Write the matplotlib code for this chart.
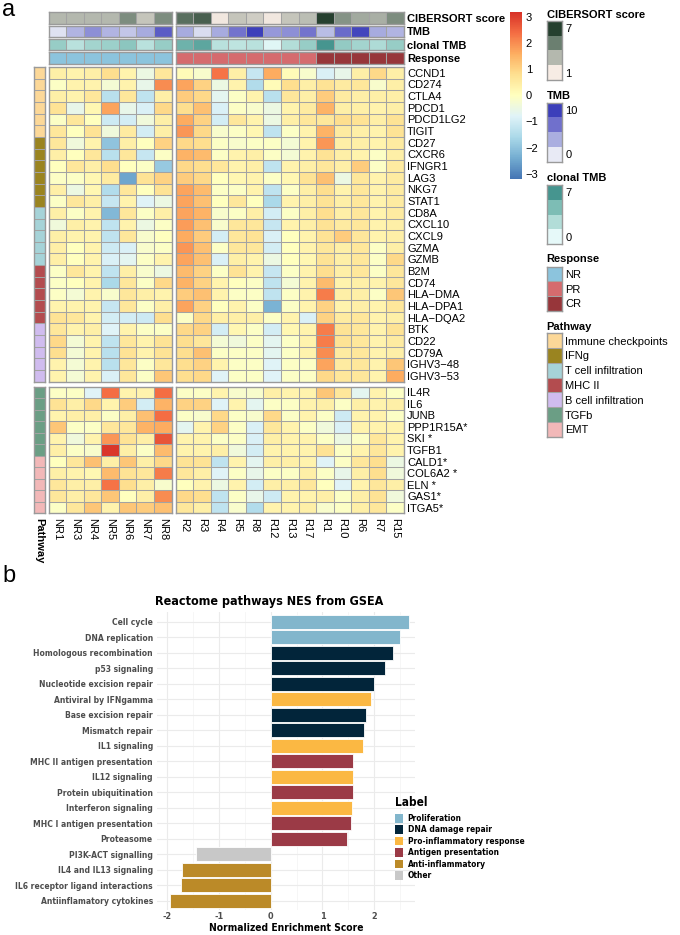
import matplotlib
matplotlib.use("Agg")
import matplotlib.pyplot as plt
import numpy as np
from matplotlib.colors import LinearSegmentedColormap, ListedColormap
from matplotlib.patches import Patch

# ---------------- data: panel a ----------------
samples_nr = ["NR1", "NR3", "NR4", "NR5", "NR6", "NR7", "NR8"]
samples_r = ["R2", "R3", "R4", "R5", "R8", "R12", "R13", "R17", "R1", "R10", "R6", "R7", "R15"]

genes_top = ["CCND1", "CD274", "CTLA4", "PDCD1", "PDCD1LG2", "TIGIT",
             "CD27", "CXCR6", "IFNGR1", "LAG3", "NKG7", "STAT1",
             "CD8A", "CXCL10", "CXCL9", "GZMA", "GZMB",
             "B2M", "CD74", "HLA\u2212DMA", "HLA\u2212DPA1", "HLA\u2212DQA2",
             "BTK", "CD22", "CD79A", "IGHV3\u221248", "IGHV3\u221253"]
genes_bot = ["IL4R", "IL6", "JUNB", "PPP1R15A*", "SKI *", "TGFB1",
             "CALD1*", "COL6A2 *", "ELN *", "GAS1*", "ITGA5*"]

pathway_names = ["Immune checkpoints", "IFNg", "T cell infiltration", "MHC II",
                 "B cell infiltration", "TGFb", "EMT"]
pathway_colors = ["#fcd898", "#9a8420", "#a6d3d8", "#b34c4f", "#d0bcef", "#6b9e85", "#f2b8b8"]
pathway_top = [0]*6 + [1]*6 + [2]*5 + [3]*5 + [4]*5
pathway_bot = [5]*6 + [6]*5

expr_top = [
    [0.4, 0.3, 0.4, 0.8, 0.3, -0.5, 0.6, 0.1, -0.2, 2.3, 0.4, -1.2, 1.6, 0.1, -0.2, -0.9, -0.6, 0.4, 0.9, 0.4],
    [-0.1, 0.3, 0.3, -0.3, 0.3, -0.6, 2.0, 1.7, 1.0, -0.5, 0.3, -1.5, 0.1, 0.8, 0.4, 0.7, 0.5, 0.6, -0.2, 0.4],
    [0.4, 0.3, 0.6, -1.4, 0.6, -1.3, 0.4, 1.1, 0.9, -0.7, -0.1, 0.3, -1.4, 0.6, 0.4, 1.1, 0.5, 0.4, 0.4, 0.4],
    [0.7, -0.6, 0.2, 1.7, -0.6, -0.9, 0.9, 0.8, 1.3, -0.9, -0.1, -0.2, -0.5, 0.3, 0.5, 1.5, 0.4, 0.4, 0.3, 0.4],
    [-0.1, 0.6, 0.0, -1.1, -1.0, -0.4, 0.4, 1.6, 1.0, -1.0, 0.6, 0.3, -0.5, 0.4, 0.6, 0.6, 0.8, 0.7, 0.4, 0.7],
    [0.6, 0.0, 0.7, -0.4, 0.5, -1.0, 0.4, 1.9, 0.9, -0.2, -0.1, 0.2, -1.3, -0.1, 0.3, 1.5, 0.5, 0.4, 0.3, 0.7],
    [0.6, -0.4, 0.3, -2.0, 0.4, 0.0, 1.0, 0.9, 0.8, -0.1, -0.2, -0.1, -0.1, -0.3, 0.3, 1.9, 0.4, 0.4, 0.3, 0.5],
    [0.4, 0.0, 0.6, -1.4, 0.6, -1.2, -0.1, 1.5, 1.4, -0.1, 0.3, 0.4, -0.1, -0.3, 0.3, 0.7, 0.4, 0.3, -0.1, 0.4],
    [0.0, 0.6, 0.4, 0.8, 0.0, -0.1, -1.9, 0.9, 0.8, 0.6, 0.3, 0.4, -1.3, 0.3, 0.4, 0.6, 0.4, 1.1, -0.1, 0.5],
    [-0.1, -0.1, 0.2, 0.5, -2.5, 0.7, 1.0, 1.1, 0.9, 0.0, 0.2, 0.3, -0.1, 0.2, 0.7, 1.3, -0.5, 0.6, 0.3, 0.5],
    [0.4, -0.5, 0.2, -1.5, 0.6, 0.0, 0.7, 1.7, 1.4, -0.1, -0.1, 0.3, -1.3, -0.1, 0.4, 0.8, 0.3, 0.6, 0.3, 0.5],
    [-0.1, 0.6, 0.4, -1.2, 0.3, -0.8, -0.5, 1.7, 1.3, 0.0, 0.6, 0.0, -1.6, 0.3, 0.4, 0.7, 0.4, 0.6, 0.3, 0.5],
    [0.4, -0.1, 0.3, -2.2, 0.6, -0.1, 0.4, 1.7, 1.5, -0.2, -0.1, 0.4, -1.0, -0.1, 0.4, 0.8, 0.4, 0.6, 0.3, 0.5],
    [-0.4, 0.4, 0.3, -1.3, 0.3, -0.5, -0.1, 1.8, 1.3, -0.2, 0.6, 0.6, -1.2, 0.3, 0.4, 0.7, 0.5, 0.6, 0.3, 0.4],
    [0.4, 0.3, 0.3, -1.3, 0.6, -0.2, 0.0, 1.6, 1.1, -1.0, 0.6, 0.7, -0.9, 0.0, 0.3, 0.7, 1.1, 0.6, 0.3, 0.4],
    [0.4, 0.0, 0.3, -1.1, -0.9, -0.2, -0.1, 1.9, 1.3, -0.1, 0.6, 0.6, -1.0, 0.0, 0.3, 0.6, 0.4, 0.6, -0.1, 0.4],
    [0.4, 0.0, 0.3, -0.9, -0.7, -0.1, 0.3, 1.7, 1.3, -0.9, 0.4, 0.3, -0.5, 0.0, 0.2, 0.7, 0.4, 0.6, -0.1, 0.9],
    [-0.1, 0.6, 0.3, -1.3, 0.4, -0.2, -0.5, 1.4, 1.0, -0.1, 0.7, 0.3, -1.2, -0.1, 0.3, 0.8, 0.4, 0.6, -0.1, 0.6],
    [-0.1, 0.0, 0.3, -1.6, 0.6, -0.1, 0.9, 1.5, 1.0, 0.3, 0.0, -0.1, -1.3, -0.3, 0.3, 1.4, 0.3, 0.4, 0.3, 0.6],
    [-0.1, -0.3, 0.3, -0.2, 0.6, 0.4, 0.3, 1.1, 1.3, 0.3, -0.1, -0.1, -1.3, -0.1, 0.3, 2.2, 0.4, 0.4, -0.1, 1.2],
    [0.3, 0.3, 0.3, -1.2, 0.6, -0.1, 0.4, 1.7, 1.0, 0.0, 0.3, -0.1, -2.3, -0.1, 0.3, 1.0, 0.3, 0.4, 0.3, 0.6],
    [0.7, 0.6, 0.3, -1.0, -1.0, -1.1, 0.8, -0.1, 0.9, 0.4, 0.4, 0.4, -0.1, 0.3, -0.9, 1.0, 0.5, 0.6, 0.3, 0.4],
    [0.6, 0.3, 0.4, -0.8, 0.3, -0.1, -0.1, 0.9, 1.0, -1.0, 0.2, -0.1, -1.0, 0.2, 0.3, 2.2, 0.7, 0.6, 0.3, 0.7],
    [0.9, -0.3, 0.3, -1.3, 0.6, 0.3, 0.7, 0.8, 0.6, -0.3, -0.4, -0.1, -0.7, -0.1, 0.3, 2.2, 0.7, 0.6, 0.3, 0.5],
    [0.8, -0.3, 0.3, -1.4, 0.7, 0.3, 0.7, 0.8, 1.3, -0.1, -0.1, -0.1, -0.7, -0.1, 0.3, 2.0, 0.5, 0.6, 0.3, 0.4],
    [0.3, -0.3, 0.3, -1.4, 0.6, -0.1, 0.6, 0.8, 1.0, 0.3, -0.1, -0.1, -0.8, -0.1, -0.1, 1.7, 0.5, 0.6, 0.3, 1.2],
    [0.3, -0.3, 0.3, -0.9, 0.6, -0.1, 1.2, 0.8, 0.9, -0.8, -0.1, -0.1, -0.8, -0.1, -0.1, 0.9, 0.6, 0.6, 0.3, 1.6],
]
expr_bot = [
    [-0.1, -0.1, -0.8, 2.4, 0.3, 0.3, 2.4, -0.1, -0.1, 0.3, -0.2, -0.2, 0.4, 0.3, 0.3, 1.2, 0.6, -0.7, 0.3, -0.1],
    [0.7, 0.4, 0.9, 0.3, 1.1, -1.0, 1.5, 1.0, 1.0, -0.8, 0.3, -0.7, -0.1, -0.1, 0.3, 0.4, -0.1, 0.4, 0.3, 0.4],
    [0.3, 0.4, 0.4, -0.1, 0.4, 1.3, 2.4, -0.1, -0.2, 0.9, -0.1, -0.2, 0.9, -0.1, 0.3, -0.1, -1.1, 0.3, 0.3, -0.1],
    [1.2, -0.1, -0.1, 0.6, 0.6, 1.5, 1.6, -0.7, 0.3, 1.0, -0.1, -0.9, 0.6, 0.3, -0.1, -0.4, -0.9, 0.3, 0.3, 0.3],
    [0.3, -0.4, 0.3, 1.9, 0.7, 0.4, 2.7, 0.3, 0.3, -0.1, -0.1, -0.9, 0.4, 0.3, 0.3, -0.1, -0.5, -0.1, 0.6, 0.3],
    [0.4, -0.1, -0.2, 3.1, 0.4, -0.1, 1.4, 0.3, 0.3, 0.4, -0.4, -1.0, 0.3, 0.3, 0.3, 0.7, -0.1, 0.3, 0.6, 0.3],
    [0.0, 0.6, 1.3, 0.4, 1.2, 0.4, 0.9, 0.7, 0.7, -1.3, 0.3, -0.7, 0.4, 0.4, 0.3, -0.8, -0.1, 0.6, 0.8, -0.5],
    [0.4, 0.3, 0.2, 1.4, 0.7, 0.6, 2.2, 0.6, 0.4, -0.8, -0.1, -0.6, -0.1, -0.1, 0.4, -0.1, -0.6, 0.4, 0.8, -0.4],
    [0.6, 0.4, 0.4, 2.3, 0.8, 0.4, -0.2, 0.0, 0.3, -0.5, 0.3, -1.0, 0.4, 0.4, 0.6, 0.0, -0.8, 0.3, 0.6, 0.4],
    [0.6, 0.4, 0.6, 1.2, 0.0, 0.4, 2.0, 0.9, 0.8, -1.3, -0.1, -0.6, -1.1, 0.3, 0.3, 0.4, -0.1, 0.4, 0.7, -0.4],
    [-0.1, 0.6, 1.2, 0.3, 1.2, 1.1, 1.3, 0.6, 0.4, -1.3, -0.2, -1.5, 0.3, 0.3, 0.4, -0.2, -0.1, 0.4, 0.6, -0.1],
]

cibersort = [3.0, 3.0, 3.0, 3.0, 4.5, 2.5, 4.5, 5.5, 6.0, 1.2, 2.5, 2.2, 1.2, 2.5, 2.8, 7.0, 4.3, 3.5, 3.3, 4.5]
tmb = [0.5, 3.0, 5.0, 3.0, 2.0, 3.5, 8.0, 3.5, 0.8, 3.5, 6.5, 10.0, 4.5, 5.0, 6.5, 2.5, 7.0, 9.5, 3.5, 3.0]
clonal_tmb = [3.5, 2.0, 3.0, 3.3, 4.0, 2.0, 3.5, 5.3, 6.0, 2.0, 1.8, 2.0, 0.3, 2.3, 3.5, 7.0, 3.7, 3.0, 2.5, 3.5]
response = [0]*7 + [1]*8 + [2]*5
response_names = ["NR", "PR", "CR"]
response_colors = ["#8cc4dd", "#d56b6e", "#97363a"]

# ---------------- data: panel b ----------------
pathways_b = ["Cell cycle", "DNA replication", "Homologous recombination", "p53 signaling",
              "Nucleotide excision repair", "Antiviral by IFNgamma", "Base excision repair",
              "Mismatch repair", "IL1 signaling", "MHC II antigen presentation", "IL12 signaling",
              "Protein ubiquitination", "Interferon signaling", "MHC I antigen presentation",
              "Proteasome", "PI3K-ACT signalling", "IL4 and IL13 signaling",
              "IL6 receptor ligand interactions", "Antiinflamatory cytokines"]
nes = [2.68, 2.50, 2.37, 2.21, 1.99, 1.93, 1.84, 1.80, 1.79, 1.60, 1.60, 1.59, 1.57, 1.55,
       1.48, -1.44, -1.71, -1.74, -1.95]
labels_b = ["Proliferation", "Proliferation", "DNA damage repair", "DNA damage repair",
            "DNA damage repair", "Pro-inflammatory response", "DNA damage repair",
            "DNA damage repair", "Pro-inflammatory response", "Antigen presentation",
            "Pro-inflammatory response", "Antigen presentation", "Pro-inflammatory response",
            "Antigen presentation", "Antigen presentation", "Other", "Anti-inflammatory",
            "Anti-inflammatory", "Anti-inflammatory"]
label_order = ["Proliferation", "DNA damage repair", "Pro-inflammatory response",
               "Antigen presentation", "Anti-inflammatory", "Other"]
label_colors = ["#82b6cc", "#02253a", "#fbb843", "#9b3a46", "#bb8a28", "#c8c8c8"]

# ---------------- figure ----------------
W, H = 680, 935
fig = plt.figure(figsize=(W/100, H/100), dpi=100)
FA = "Liberation Sans"
plt.rcParams["font.family"] = [FA, "DejaVu Sans"]

CELL_EDGE = "#a3a3a3"


def px_ax(x0, y0, x1, y1):
    return fig.add_axes([x0/W, 1 - y1/H, (x1 - x0)/W, (y1 - y0)/H])


def grid(ax, data, cmap, vmin, vmax, lines=True):
    data = np.asarray(data, dtype=float)
    nr, nc = data.shape
    m = ax.pcolormesh(data, cmap=cmap, vmin=vmin, vmax=vmax)
    if lines:
        for k in range(1, nc):
            ax.axvline(k, color=CELL_EDGE, linewidth=0.75)
        for k in range(1, nr):
            ax.axhline(k, color=CELL_EDGE, linewidth=0.75)
    ax.set_xlim(0, nc)
    ax.set_ylim(nr, 0)
    ax.set_xticks([])
    ax.set_yticks([])
    for s in ax.spines.values():
        s.set_color("#9a9a9a")
        s.set_linewidth(1.0)
    return m


heat_cmap = LinearSegmentedColormap.from_list(
    "hm", ["#4575b4", "#74add1", "#abd9e9", "#e0f3f8", "#ffffbf",
           "#fee090", "#fdae61", "#f46d43", "#d73027"])
VMIN, VMAX = -3.2, 3.2
cib_cmap = LinearSegmentedColormap.from_list("cib", ["#f7ece4", "#b4b8ae", "#6b7f70", "#26402f"])
tmb_cmap = LinearSegmentedColormap.from_list("tmb", ["#e8eaf5", "#aaaee0", "#7070cc", "#3c3fba"])
clo_cmap = LinearSegmentedColormap.from_list("clo", ["#e6f9f9", "#b2ddd8", "#7dbdb5", "#46958f"])
resp_cmap = ListedColormap(response_colors)
path_cmap = ListedColormap(pathway_colors)

col_x = [(48.5, 171.5), (175.5, 404.0)]
n_nr = len(samples_nr)
row_blocks = [((67.0, 381.7), expr_top, genes_top, pathway_top),
              ((386.7, 513.3), expr_bot, genes_bot, pathway_bot)]

# annotation rows
ann_rows = [("CIBERSORT score", cibersort, cib_cmap, 1, 7),
            ("TMB", tmb, tmb_cmap, 0, 10),
            ("clonal TMB", clonal_tmb, clo_cmap, 0, 7),
            ("Response", response, resp_cmap, -0.5, 2.5)]
for i, (name, vals, cmap, lo, hi) in enumerate(ann_rows):
    y0 = 12.3 + i * 13.3
    y1 = y0 + 11.5
    parts = [vals[:n_nr], vals[n_nr:]]
    for j, (x0, x1) in enumerate(col_x):
        ax = px_ax(x0, y0, x1, y1)
        grid(ax, [parts[j]], cmap, lo, hi)
        if j == 1:
            ax.yaxis.tick_right()
            ax.set_yticks([0.5])
            ax.set_yticklabels([name], fontsize=8, fontweight="bold")
            ax.tick_params(axis="y", length=0, pad=2.2)

# heatmap body
mesh = None
for bi, ((y0, y1), expr, genes, pw) in enumerate(row_blocks):
    expr = np.asarray(expr)
    parts = [expr[:, :n_nr], expr[:, n_nr:]]
    for j, (x0, x1) in enumerate(col_x):
        ax = px_ax(x0, y0, x1, y1)
        mesh = grid(ax, parts[j], heat_cmap, VMIN, VMAX)
        if j == 1:
            ax.yaxis.tick_right()
            ax.set_yticks(np.arange(len(genes)) + 0.5)
            ax.set_yticklabels(genes, fontsize=8)
            ax.tick_params(axis="y", length=0, pad=2.2)
        if bi == 1:
            names = samples_nr if j == 0 else samples_r
            ax.set_xticks(np.arange(len(names)) + 0.5)
            ax.set_xticklabels(names, rotation=270, fontsize=8, va="top")
            ax.tick_params(axis="x", length=0, pad=3.3)
    axp = px_ax(33.5, y0, 45.0, y1)
    grid(axp, np.asarray(pw)[:, None], path_cmap, -0.5, 6.5)
    if bi == 1:
        axp.set_xticks([0.5])
        axp.set_xticklabels(["Pathway"], rotation=270, fontsize=8, fontweight="bold", va="top")
        axp.tick_params(axis="x", length=0, pad=3.3)

# colorbar
cax = px_ax(510, 11.7, 521.7, 179)
cb = fig.colorbar(mesh, cax=cax, ticks=[-3, -2, -1, 0, 1, 2, 3])
cb.outline.set_visible(False)
cax.tick_params(length=0, labelsize=8, pad=3)


# legends
def cont_legend(title, ty, y0, y1, cmap, lo, hi, top_lab, bot_lab):
    ax = px_ax(546.7, y0, 561.7, y1)
    vals = np.linspace(hi, lo, 4)[:, None]
    grid(ax, vals, cmap, lo, hi, lines=False)
    ax.yaxis.tick_right()
    ax.set_yticks([0.5, 3.5])
    ax.set_yticklabels([top_lab, bot_lab], fontsize=8)
    ax.tick_params(axis="y", length=0, pad=2.5)
    fig.text(546.7/W, 1 - ty/H, title, fontsize=8, fontweight="bold", va="center", ha="left")


def disc_legend(title, ty, y0, y1, cmap, names):
    ax = px_ax(546.7, y0, 561.7, y1)
    grid(ax, np.arange(len(names))[:, None], cmap, -0.5, len(names) - 0.5)
    ax.yaxis.tick_right()
    ax.set_yticks(np.arange(len(names)) + 0.5)
    ax.set_yticklabels(names, fontsize=8)
    ax.tick_params(axis="y", length=0, pad=2.5)
    fig.text(546.7/W, 1 - ty/H, title, fontsize=8, fontweight="bold", va="center", ha="left")


cont_legend("CIBERSORT score", 14.5, 20.7, 80.0, cib_cmap, 1, 7, "7", "1")
cont_legend("TMB", 96.0, 102.7, 161.7, tmb_cmap, 0, 10, "10", "0")
cont_legend("clonal TMB", 177.7, 185.0, 244.0, clo_cmap, 0, 7, "7", "0")
disc_legend("Response", 259.3, 266.7, 310.7, resp_cmap, response_names)
disc_legend("Pathway", 327.3, 333.3, 436.7, path_cmap, pathway_names)

fig.text(2/W, 1 - 16/H, "a", fontsize=17, va="baseline", ha="left")
fig.text(2/W, 1 - 581.5/H, "b", fontsize=17, va="baseline", ha="left")

# ---------------- panel b ----------------
FB = "DejaVu Sans"
FS = "condensed"

axb = px_ax(157, 612.4, 415, 910)
ypos = np.arange(len(pathways_b))
cmap_lab = dict(zip(label_order, label_colors))
axb.barh(ypos, nes, height=0.9, color=[cmap_lab[l] for l in labels_b],
         edgecolor="white", linewidth=0.6, zorder=3)
axb.set_ylim(len(pathways_b) - 1 + 0.6, -0.6)
axb.set_xlim(-2.2, 2.79)
axb.set_xticks([-2, -1, 0, 1, 2])
axb.set_xticks([-1.5, -0.5, 0.5, 1.5, 2.5], minor=True)
axb.set_yticks(ypos)
axb.set_yticklabels(pathways_b, fontsize=6.1, fontweight="bold", color="#4d4d4d",
                    family=FB, fontstretch=FS)
axb.set_xticklabels(["-2", "-1", "0", "1", "2"], fontsize=6.5, fontweight="bold",
                    color="#4d4d4d", family=FB, fontstretch=FS)
axb.tick_params(axis="both", which="both", length=0)
axb.tick_params(axis="y", pad=3)
axb.tick_params(axis="x", pad=1.5)
axb.grid(True, which="major", axis="both", color="#ebebeb", linewidth=0.8, zorder=0)
axb.grid(True, which="minor", axis="x", color="#f3f3f3", linewidth=0.5, zorder=0)
axb.set_axisbelow(True)
for s in axb.spines.values():
    s.set_visible(False)
axb.set_xlabel("Normalized Enrichment Score", fontsize=7.4, fontweight="bold",
               family=FB, fontstretch=FS, labelpad=1.5)
fig.text(269.5/W, 1 - 601/H, "Reactome pathways NES from GSEA", fontsize=9,
         fontweight="bold", ha="center", va="center", family=FB, fontstretch=FS)

fig.text(395/W, 1 - 803/H, "Label", fontsize=8.5, fontweight="bold", ha="left",
         va="center", family=FB, fontstretch=FS)
handles = [Patch(facecolor=c, edgecolor="none") for c in label_colors]
leg = axb.legend(handles, label_order, loc="upper left",
                 bbox_to_anchor=(395/W, 1 - 814/H), bbox_transform=fig.transFigure,
                 frameon=False, borderpad=0, borderaxespad=0, handlelength=1.0,
                 handleheight=1.2, labelspacing=0.28, handletextpad=0.5,
                 prop=dict(family=FB, weight="bold", size=6.0, stretch=FS))

fig.savefig("out.png", dpi=100, facecolor="white")
